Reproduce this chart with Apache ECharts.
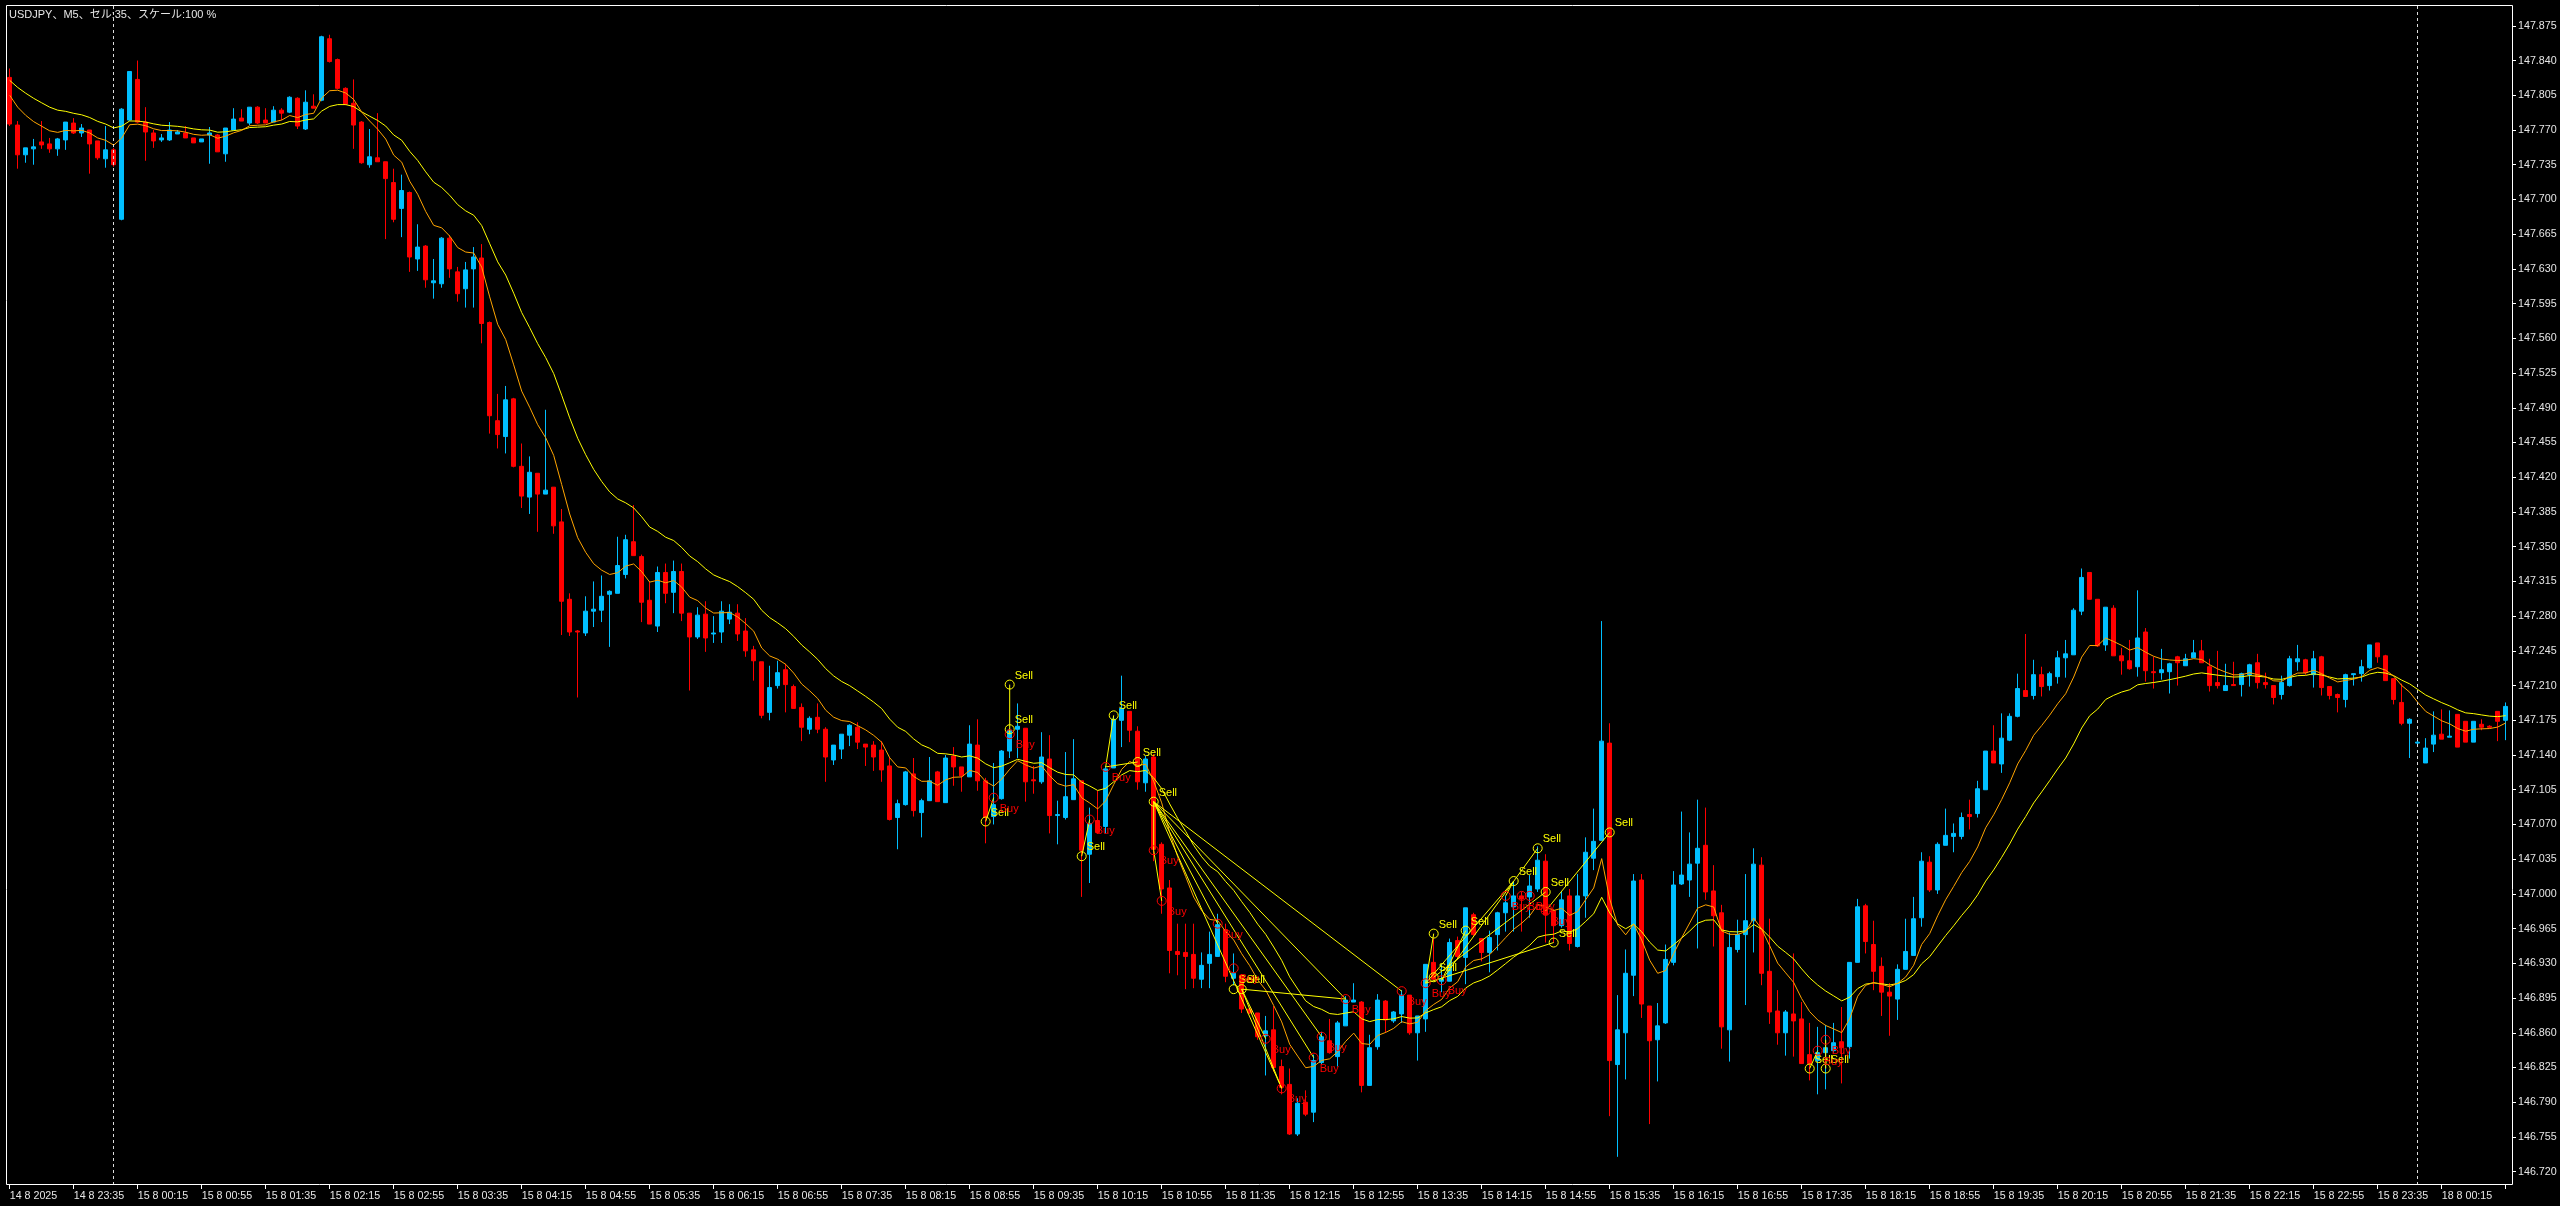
<!DOCTYPE html>
<html><head><meta charset="utf-8">
<script src="https://cdn.jsdelivr.net/npm/echarts@6/dist/echarts.min.js"></script>
<style>html,body{margin:0;padding:0;background:#000;overflow:hidden}#c{width:2560px;height:1206px}</style>
</head><body><div id="c"></div>
<script>
const titleText = 'USDJPY、M5、セル:35、スケール:100 %';
const tickLabels = ['14 8 2025','14 8 23:35','15 8 00:15','15 8 00:55','15 8 01:35','15 8 02:15','15 8 02:55','15 8 03:35','15 8 04:15','15 8 04:55','15 8 05:35','15 8 06:15','15 8 06:55','15 8 07:35','15 8 08:15','15 8 08:55','15 8 09:35','15 8 10:15','15 8 10:55','15 8 11:35','15 8 12:15','15 8 12:55','15 8 13:35','15 8 14:15','15 8 14:55','15 8 15:35','15 8 16:15','15 8 16:55','15 8 17:35','15 8 18:15','15 8 18:55','15 8 19:35','15 8 20:15','15 8 20:55','15 8 21:35','15 8 22:15','15 8 22:55','15 8 23:35','18 8 00:15'];
const tickEvery = 8;
const priceTicks = [146.720,146.755,146.790,146.825,146.860,146.895,146.930,146.965,147.000,147.035,147.070,147.105,147.140,147.175,147.210,147.245,147.280,147.315,147.350,147.385,147.420,147.455,147.490,147.525,147.560,147.595,147.630,147.665,147.700,147.735,147.770,147.805,147.840,147.875];
const opens = [
147.823,147.775,147.745,147.751,147.758,147.756,147.751,147.760,147.777,147.767,
147.770,147.759,147.741,147.750,147.680,147.780,147.821,147.778,147.767,147.760,
147.760,147.766,147.767,147.762,147.758,147.765,147.765,147.746,147.770,147.782,
147.777,147.793,147.780,147.778,147.790,147.788,147.802,147.771,147.794,147.800,
147.862,147.841,147.812,147.797,147.778,147.735,147.742,147.738,147.717,147.691,
147.707,147.640,147.653,147.616,147.615,147.661,147.627,147.610,147.630,147.641,
147.576,147.477,147.461,147.499,147.431,147.400,147.424,147.403,147.410,147.375,
147.297,147.265,147.263,147.285,147.286,147.302,147.303,147.322,147.355,147.340,
147.296,147.270,147.324,147.304,147.325,147.283,147.259,147.282,147.262,147.264,
147.277,147.283,147.265,147.246,147.234,147.183,147.210,147.226,147.209,147.188,
147.166,147.178,147.166,147.135,147.146,147.160,147.168,147.151,147.150,147.145,
147.129,147.077,147.090,147.121,147.082,147.094,147.123,147.092,147.139,147.128,
147.118,147.150,147.114,147.078,147.096,147.144,147.166,147.167,147.115,147.113,
147.136,147.079,147.077,147.095,147.114,147.040,147.074,147.068,147.127,147.175,
147.184,147.164,147.112,147.138,147.050,147.006,146.942,146.941,146.939,146.914,
146.930,146.937,146.964,146.915,146.918,146.884,146.880,146.857,146.863,146.826,
146.808,146.758,146.790,146.780,146.830,146.852,146.836,146.867,146.891,146.891,
146.807,146.846,146.892,146.872,146.879,146.898,146.860,146.874,146.931,146.912,
146.912,146.953,146.936,146.979,146.955,146.941,146.959,146.981,146.987,146.998,
146.997,147.005,147.033,146.983,146.968,146.998,146.947,146.998,147.036,147.054,
147.152,146.828,146.860,146.918,147.014,146.887,146.853,146.870,146.931,147.010,
147.014,147.031,147.049,147.003,146.981,146.863,146.944,146.959,146.973,147.029,
146.922,146.882,146.860,146.879,146.874,146.838,146.832,146.840,146.842,146.851,
146.846,146.931,146.988,146.949,146.927,146.901,146.894,146.924,146.938,146.976,
147.032,147.004,147.049,147.058,147.058,147.080,147.081,147.105,147.144,147.131,
147.155,147.179,147.205,147.200,147.221,147.210,147.219,147.238,147.241,147.285,
147.324,147.297,147.251,147.288,147.240,147.235,147.229,147.264,147.224,147.223,
147.224,147.239,147.230,147.238,147.245,147.229,147.213,147.205,147.211,147.211,
147.221,147.233,147.213,147.210,147.201,147.210,147.234,147.236,147.221,147.239,
147.209,147.201,147.196,147.221,147.222,147.228,147.253,147.240,147.217,147.193,
147.172,147.152,147.132,147.151,147.161,147.158,147.181,147.174,147.153,147.171,
147.169,147.184,147.175];
const highs = [
147.832,147.779,147.752,147.761,147.779,147.762,147.762,147.778,147.782,147.776,
147.770,147.759,147.774,147.752,147.792,147.829,147.840,147.793,147.770,147.766,
147.778,147.770,147.774,147.762,147.761,147.773,147.766,147.772,147.792,147.791,
147.793,147.794,147.792,147.794,147.792,147.804,147.803,147.810,147.806,147.865,
147.866,147.842,147.813,147.821,147.779,147.771,147.787,147.738,147.731,147.725,
147.708,147.675,147.654,147.640,147.662,147.664,147.632,147.637,147.652,147.655,
147.577,147.504,147.512,147.500,147.454,147.441,147.424,147.488,147.410,147.388,
147.303,147.266,147.300,147.315,147.321,147.306,147.360,147.362,147.392,147.342,
147.315,147.330,147.333,147.336,147.333,147.283,147.289,147.295,147.280,147.295,
147.292,147.292,147.278,147.250,147.234,147.230,147.235,147.232,147.211,147.192,
147.179,147.192,147.168,147.150,147.161,147.171,147.173,147.151,147.154,147.154,
147.138,147.095,147.124,147.137,147.096,147.138,147.124,147.140,147.148,147.128,
147.170,147.176,147.117,147.132,147.145,147.167,147.192,147.167,147.129,147.163,
147.160,147.094,147.143,147.156,147.114,147.087,147.104,147.129,147.179,147.220,
147.184,147.169,147.139,147.141,147.052,147.014,146.970,146.970,146.970,146.941,
146.962,146.980,146.970,146.940,146.919,146.885,146.880,146.877,146.887,146.833,
146.824,146.794,146.802,146.838,146.861,146.874,146.872,146.897,146.910,146.892,
146.858,146.899,146.893,146.882,146.903,146.898,146.877,146.929,146.955,146.929,
146.955,146.957,146.986,146.981,146.955,146.963,146.982,146.998,147.013,147.002,
147.019,147.048,147.040,146.985,147.003,147.005,147.020,147.057,147.086,147.275,
147.172,146.898,146.944,147.020,147.020,146.887,146.890,146.949,147.023,147.083,
147.062,147.095,147.087,147.029,146.989,146.961,146.974,147.020,147.046,147.037,
146.975,146.903,146.883,146.940,146.891,146.870,146.866,146.868,146.870,146.886,
146.931,146.995,146.990,146.973,146.936,146.910,146.929,146.975,146.997,147.042,
147.038,147.052,147.086,147.071,147.082,147.095,147.114,147.144,147.170,147.182,
147.182,147.222,147.262,147.236,147.229,147.224,147.245,147.256,147.288,147.328,
147.324,147.297,147.289,147.291,147.248,147.256,147.306,147.268,147.239,147.247,
147.233,147.240,147.242,147.256,147.256,147.237,147.245,147.232,147.234,147.223,
147.232,147.242,147.223,147.210,147.220,147.240,147.251,147.237,147.245,147.240,
147.209,147.202,147.222,147.222,147.236,147.251,147.253,147.241,147.217,147.212,
147.177,147.157,147.157,147.184,147.186,147.185,147.181,147.174,147.174,147.176,
147.170,147.184,147.193];
const lows = [
147.774,147.731,147.737,147.735,147.751,147.747,147.744,147.750,147.766,147.763,
147.726,147.740,147.732,147.733,147.679,147.779,147.777,147.739,147.752,147.758,
147.759,147.766,147.762,147.757,147.758,147.736,147.748,147.738,147.770,147.779,
147.775,147.776,147.777,147.778,147.780,147.787,147.771,147.770,147.792,147.799,
147.838,147.811,147.795,147.751,147.736,147.732,147.738,147.660,147.677,147.662,
147.627,147.628,147.611,147.600,147.611,147.621,147.597,147.591,147.591,147.555,
147.464,147.449,147.444,147.430,147.389,147.383,147.365,147.403,147.363,147.261,
147.260,147.198,147.260,147.269,147.274,147.249,147.303,147.318,147.341,147.274,
147.272,147.264,147.293,147.283,147.275,147.205,147.257,147.244,147.253,147.253,
147.272,147.255,147.239,147.215,147.177,147.175,147.207,147.183,147.187,147.154,
147.161,147.162,147.113,147.130,147.136,147.149,147.146,147.129,147.124,147.113,
147.074,147.045,147.089,147.078,147.057,147.094,147.093,147.092,147.109,147.103,
147.118,147.104,147.051,147.070,147.095,147.137,147.137,147.093,147.101,147.111,
147.061,147.050,147.075,147.095,146.997,147.011,147.062,147.061,147.127,147.148,
147.153,147.105,147.103,147.033,146.980,146.920,146.918,146.904,146.905,146.905,
146.905,146.937,146.911,146.908,146.880,146.879,146.853,146.817,146.821,146.798,
146.757,146.756,146.776,146.770,146.828,146.839,146.826,146.867,146.891,146.800,
146.807,146.843,146.860,146.870,146.870,146.858,146.832,146.861,146.913,146.901,
146.912,146.934,146.909,146.958,146.932,146.921,146.943,146.962,146.962,146.962,
146.976,147.002,146.951,146.951,146.966,146.943,146.946,146.976,147.024,147.054,
146.776,146.735,146.813,146.897,146.875,146.768,146.811,146.869,146.928,147.009,
146.997,146.945,146.994,146.947,146.844,146.831,146.941,146.888,146.941,146.908,
146.869,146.848,146.837,146.836,146.829,146.812,146.798,146.803,146.840,146.809,
146.834,146.931,146.940,146.903,146.877,146.857,146.873,146.924,146.938,146.967,
147.002,147.000,147.049,147.042,147.055,147.065,147.077,147.105,147.132,147.122,
147.154,147.178,147.199,147.196,147.199,147.205,147.212,147.218,147.241,147.281,
147.297,147.249,147.245,147.240,147.221,147.226,147.219,147.214,147.207,147.216,
147.202,147.210,147.230,147.238,147.233,147.204,147.207,147.205,147.210,147.199,
147.209,147.207,147.207,147.191,147.196,147.209,147.225,147.221,147.208,147.200,
147.196,147.183,147.188,147.210,147.214,147.227,147.233,147.215,147.191,147.170,
147.137,147.150,147.132,147.143,147.156,147.158,147.148,147.153,147.153,147.165,
147.167,147.154,147.155];
const closes = [
147.776,147.745,147.752,147.753,147.755,147.751,147.761,147.778,147.767,147.772,
147.756,147.742,147.750,147.735,147.791,147.829,147.778,147.768,147.759,147.762,
147.770,147.768,147.762,147.757,147.761,147.767,147.748,147.772,147.781,147.779,
147.793,147.777,147.777,147.790,147.787,147.803,147.774,147.798,147.792,147.864,
147.839,147.812,147.796,147.775,147.737,147.743,147.738,147.721,147.680,147.709,
147.642,147.652,147.619,147.618,147.661,147.630,147.605,147.629,147.642,147.575,
147.482,147.463,147.498,147.431,147.401,147.425,147.403,147.407,147.371,147.295,
147.264,147.264,147.285,147.287,147.300,147.305,147.331,147.357,147.341,147.294,
147.272,147.324,147.303,147.325,147.283,147.259,147.281,147.258,147.263,147.285,
147.284,147.262,147.245,147.235,147.180,147.208,147.223,147.211,147.187,147.168,
147.177,147.166,147.138,147.150,147.161,147.170,147.153,147.148,147.138,147.125,
147.075,147.091,147.123,147.084,147.094,147.114,147.093,147.137,147.128,147.119,
147.151,147.114,147.077,147.090,147.144,147.165,147.169,147.113,147.114,147.138,
147.079,147.080,147.098,147.116,147.044,147.071,147.062,147.126,147.176,147.187,
147.165,147.113,147.136,147.045,147.005,146.943,146.939,146.937,146.915,146.928,
146.939,146.969,146.917,146.920,146.884,146.880,146.856,146.862,146.825,146.805,
146.758,146.789,146.778,146.832,146.856,146.840,146.870,146.893,146.893,146.807,
146.845,146.893,146.873,146.881,146.898,146.860,146.877,146.929,146.914,146.914,
146.951,146.937,146.986,146.959,146.941,146.956,146.981,146.991,146.998,146.995,
147.008,147.034,146.979,146.968,146.994,146.950,146.998,147.042,147.053,147.154,
146.832,146.863,146.920,147.013,146.889,146.852,146.867,146.934,147.009,147.019,
147.030,147.046,147.002,146.978,146.866,146.946,146.959,146.973,147.030,146.920,
146.881,146.860,146.881,146.872,146.829,146.829,146.840,146.845,146.850,146.845,
146.931,146.987,146.952,146.922,146.901,146.897,146.924,146.942,146.975,147.033,
147.004,147.050,147.059,147.061,147.077,147.078,147.106,147.144,147.132,147.157,
147.179,147.207,147.199,147.221,147.209,147.222,147.238,147.242,147.286,147.319,
147.297,147.250,147.289,147.240,147.235,147.227,147.258,147.225,147.223,147.226,
147.232,147.233,147.237,147.243,147.233,147.210,147.210,147.210,147.210,147.222,
147.231,147.213,147.211,147.198,147.213,147.237,147.237,147.223,147.237,147.208,
147.200,147.198,147.221,147.222,147.229,147.251,147.239,147.215,147.196,147.172,
147.176,147.153,147.147,147.160,147.156,147.159,147.148,147.153,147.174,147.168,
147.168,147.174,147.189];
const maFastPeriod = 9, maFastSeed = 147.805;
const maSlowPeriod = 20, maSlowSeed = 147.820;
// day separators (bar index)
const separators = [13, 301];
// trade history markers [bar, price]
const sellMarks = [[122,147.073],[125,147.211],[125,147.166],[134,147.038],[138,147.180],[141,147.133],[143,147.093],[153,146.904],[154,146.904],[178,146.960],[178,146.916],[182,146.963],[188,147.013],[191,147.046],[192,147.002],[193,146.951],[200,147.062],[225,146.824],[227,146.824]];
const buyMarks = [[123,147.097],[125,147.161],[135,147.075],[137,147.128],[143,147.044],[144,146.993],[151,146.970],[153,146.925],[157,146.854],[159,146.804],[163,146.835],[164,146.856],[167,146.894],[174,146.902],[177,146.910],[179,146.913],[187,146.998],[189,146.998],[190,146.998],[192,146.983],[226,146.842],[227,146.853]];
// trade lines [barFrom, priceFrom, barTo, priceTo]
const tradeLines = [[122,147.073,123,147.097],[125,147.161,125,147.211],[134,147.038,135,147.075],[137,147.128,138,147.180],[137,147.128,141,147.133],[143,147.093,143,147.044],[143,147.044,144,146.993],[143,147.093,151,146.970],[143,147.093,159,146.804],[143,147.093,163,146.835],[143,147.093,164,146.856],[143,147.093,167,146.894],[143,147.093,174,146.902],[154,146.904,157,146.854],[154,146.904,159,146.804],[154,146.904,167,146.894],[177,146.910,178,146.960],[179,146.913,182,146.963],[177,146.910,188,147.013],[179,146.913,191,147.046],[178,146.916,192,147.002],[177,146.910,193,146.951],[187,146.998,188,147.013],[192,146.983,200,147.062],[226,146.842,225,146.824],[227,146.853,227,146.824]];

function ema(src, period, seed){
  const k = 2/(period+1); const out=[]; let v = seed;
  for(let i=0;i<src.length;i++){ if(i>0) v = v + k*(src[i]-v); out.push(+v.toFixed(4)); }
  return out;
}
const n = closes.length;
const cats = []; for(let i=0;i<n;i++) cats.push(String(i));
const candles = []; for(let i=0;i<n;i++) candles.push([opens[i], closes[i], lows[i], highs[i]]);
const maFast = ema(closes, maFastPeriod, maFastSeed);
const maSlow = ema(closes, maSlowPeriod, maSlowSeed);

const FONT = '"Liberation Sans", Arial, "Noto Sans CJK JP", sans-serif';
const TXT = '#E6E6E6';
function markerSeries(name, marks, color, label, dx, dy){
  return {type:'custom', name:name, z:6, data:marks, encode:{x:0, y:1},
    renderItem:(params, api)=>{
      const p = api.coord([api.value(0), api.value(1)]);
      return {type:'group', children:[
        {type:'circle', shape:{cx:p[0], cy:p[1], r:4.5}, style:{fill:null, stroke:color, lineWidth:1}},
        {type:'text', style:{x:p[0]+dx, y:p[1]+dy, text:label, fill:color, font:'11px "Liberation Sans", Arial, sans-serif', textVerticalAlign:'middle', verticalAlign:'middle'}}
      ]};
    }};
}
const chart = echarts.init(document.getElementById('c'), null, {renderer:'canvas'});
const gridLeft = 5.7, gridTop = 5, gridW = 2504, gridH = 1180;
chart.setOption({
  backgroundColor:'#000',
  animation:false,
  textStyle:{fontFamily:FONT},
  grid:{left:gridLeft, top:gridTop, width:gridW, height:gridH, containLabel:false},
  xAxis:{type:'category', data:cats, boundaryGap:true,
    axisLine:{show:false},
    axisTick:{show:true, alignWithLabel:true, length:4, interval:(i)=>i%tickEvery===0, lineStyle:{color:'#fff', width:1}},
    axisLabel:{show:true, interval:(i)=>i%tickEvery===0, align:'left', margin:6, color:TXT, fontSize:10.7, fontFamily:FONT,
      formatter:(v,i)=>tickLabels[Math.round(i/tickEvery)] || ''},
    splitLine:{show:false}},
  yAxis:{type:'value', position:'right', offset:3.3, min:146.7066, max:147.8960, scale:true,
    axisLine:{show:false},
    axisTick:{show:true, length:3, customValues:priceTicks, lineStyle:{color:'#fff'}},
    axisLabel:{show:true, customValues:priceTicks, margin:5, color:TXT, fontSize:10.7, fontFamily:FONT, formatter:(v)=>v.toFixed(3)},
    splitLine:{show:false}},
  graphic:[
    {type:'rect', z:100, silent:true, shape:{x:6.5, y:5.5, width:2506, height:1179}, style:{fill:null, stroke:'#fff', lineWidth:1}},
    {type:'text', z:100, left:9, top:9, silent:true, style:{text:titleText, fill:TXT, font:'11px "Liberation Sans", Arial, "Noto Sans CJK JP", sans-serif'}}
  ],
  series:[
    {type:'candlestick', name:'USDJPY', data:candles, barWidth:4, z:2,
      itemStyle:{color:'#00BFFF', color0:'#FF0000', borderColor:'#00BFFF', borderColor0:'#FF0000', borderWidth:1},
      markLine:{silent:true, symbol:['none','none'], label:{show:false},
        lineStyle:{type:[3,3], color:'#DDDDDD', width:1},
        data: separators.map(s=>({xAxis:String(s)}))}},
    {type:'line', name:'MA slow', data:maSlow, showSymbol:false, symbol:'none', z:3, lineStyle:{color:'#FFFF00', width:1}},
    {type:'line', name:'MA fast', data:maFast, showSymbol:false, symbol:'none', z:3, lineStyle:{color:'#FFA500', width:1}},
    {type:'custom', name:'trades', z:4, data:tradeLines, encode:{x:[0,2], y:[1,3]},
      renderItem:(params, api)=>{
        const a = api.coord([api.value(0), api.value(1)]);
        const b = api.coord([api.value(2), api.value(3)]);
        return {type:'line', shape:{x1:a[0], y1:a[1], x2:b[0], y2:b[1]}, style:{stroke:'#FFFF00', lineWidth:1}};
      }},
    markerSeries('Sell', sellMarks, '#FFFF00', 'Sell', 5, -9),
    markerSeries('Buy', buyMarks, '#FF0000', 'Buy', 6, 11)
  ]
});
</script>
</body></html>
